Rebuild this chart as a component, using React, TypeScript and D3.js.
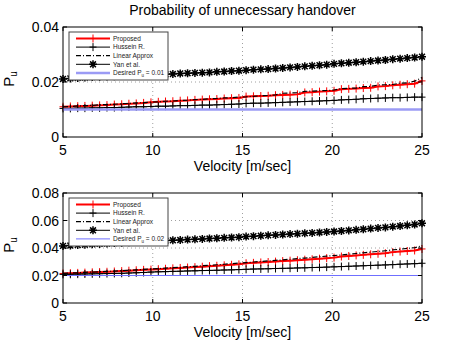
import React, { useEffect, useRef } from 'react';
import * as d3 from 'd3';

// velocity samples [m/sec]
const velocity = [
  5, 5.41, 5.82, 6.22, 6.63, 7.04, 7.45, 7.86, 8.27, 8.67,
  9.08, 9.49, 9.9, 10.31, 10.71, 11.12, 11.53, 11.94, 12.35, 12.76,
  13.16, 13.57, 13.98, 14.39, 14.8, 15.2, 15.61, 16.02, 16.43, 16.84,
  17.24, 17.65, 18.06, 18.47, 18.88, 19.29, 19.69, 20.1, 20.51, 20.92,
  21.33, 21.73, 22.14, 22.55, 22.96, 23.37, 23.78, 24.18, 24.59, 25,
];

// top panel (desired Pu = 0.01)
const topProposed = [
  0.0110, 0.0111, 0.0112, 0.0113, 0.0114, 0.0115, 0.0116, 0.0118, 0.0119, 0.0121,
  0.0122, 0.0124, 0.0126, 0.0128, 0.0129, 0.0130, 0.0132, 0.0133, 0.0135, 0.0136,
  0.0137, 0.0138, 0.0140, 0.0141, 0.0142, 0.0147, 0.0148, 0.0149, 0.0150, 0.0152,
  0.0153, 0.0154, 0.0155, 0.0162, 0.0163, 0.0165, 0.0166, 0.0168, 0.0174, 0.0175,
  0.0176, 0.0178, 0.0179, 0.0184, 0.0185, 0.0188, 0.0190, 0.0192, 0.0194, 0.0204,
];
const topHussein = [
  0.0104, 0.0104, 0.0105, 0.0105, 0.0106, 0.0106, 0.0107, 0.0107, 0.0108, 0.0109,
  0.0110, 0.0110, 0.0111, 0.0112, 0.0112, 0.0113, 0.0114, 0.0114, 0.0115, 0.0116,
  0.0116, 0.0117, 0.0118, 0.0119, 0.0120, 0.0122, 0.0123, 0.0123, 0.0124, 0.0125,
  0.0126, 0.0127, 0.0128, 0.0129, 0.0130, 0.0131, 0.0132, 0.0133, 0.0135, 0.0136,
  0.0137, 0.0139, 0.0140, 0.0141, 0.0142, 0.0143, 0.0143, 0.0144, 0.0145, 0.0145,
];
const topLinear = [
  0.0110, 0.0111, 0.0113, 0.0114, 0.0115, 0.0117, 0.0118, 0.0119, 0.0121, 0.0122,
  0.0124, 0.0125, 0.0127, 0.0128, 0.0130, 0.0131, 0.0133, 0.0134, 0.0136, 0.0137,
  0.0139, 0.0140, 0.0142, 0.0143, 0.0145, 0.0146, 0.0148, 0.0150, 0.0151, 0.0153,
  0.0159, 0.0160, 0.0161, 0.0166, 0.0167, 0.0168, 0.0169, 0.0171, 0.0176, 0.0177,
  0.0178, 0.0183, 0.0184, 0.0189, 0.0190, 0.0191, 0.0196, 0.0197, 0.0203, 0.0216,
];
const topYan = [
  0.0211, 0.0213, 0.0215, 0.0216, 0.0218, 0.0219, 0.0220, 0.0221, 0.0222, 0.0223,
  0.0224, 0.0225, 0.0226, 0.0227, 0.0228, 0.0229, 0.0231, 0.0232, 0.0233, 0.0234,
  0.0235, 0.0237, 0.0238, 0.0240, 0.0241, 0.0243, 0.0245, 0.0246, 0.0247, 0.0249,
  0.0251, 0.0253, 0.0255, 0.0257, 0.0259, 0.0261, 0.0263, 0.0266, 0.0268, 0.0270,
  0.0272, 0.0274, 0.0276, 0.0278, 0.0280, 0.0283, 0.0285, 0.0287, 0.0289, 0.0292,
];

// bottom panel (desired Pu = 0.02)
const botProposed = [
  0.0215, 0.0217, 0.0219, 0.0221, 0.0223, 0.0225, 0.0227, 0.0229, 0.0232, 0.0235,
  0.0238, 0.0241, 0.0243, 0.0246, 0.0249, 0.0252, 0.0255, 0.0258, 0.0261, 0.0264,
  0.0268, 0.0271, 0.0274, 0.0278, 0.0281, 0.0289, 0.0292, 0.0295, 0.0298, 0.0301,
  0.0305, 0.0308, 0.0311, 0.0315, 0.0318, 0.0322, 0.0326, 0.0330, 0.0338, 0.0342,
  0.0346, 0.0350, 0.0354, 0.0358, 0.0362, 0.0370, 0.0374, 0.0378, 0.0382, 0.0393,
];
const botHussein = [
  0.0208, 0.0209, 0.0210, 0.0211, 0.0212, 0.0213, 0.0214, 0.0215, 0.0216, 0.0218,
  0.0220, 0.0222, 0.0225, 0.0227, 0.0228, 0.0230, 0.0231, 0.0233, 0.0234, 0.0236,
  0.0237, 0.0238, 0.0240, 0.0241, 0.0243, 0.0245, 0.0247, 0.0248, 0.0249, 0.0251,
  0.0252, 0.0253, 0.0255, 0.0256, 0.0258, 0.0259, 0.0261, 0.0263, 0.0265, 0.0267,
  0.0269, 0.0271, 0.0273, 0.0275, 0.0277, 0.0279, 0.0282, 0.0284, 0.0286, 0.0289,
];
const botLinear = [
  0.0216, 0.0218, 0.0220, 0.0223, 0.0225, 0.0227, 0.0230, 0.0232, 0.0235, 0.0238,
  0.0241, 0.0244, 0.0247, 0.0250, 0.0254, 0.0257, 0.0260, 0.0264, 0.0267, 0.0271,
  0.0274, 0.0278, 0.0282, 0.0286, 0.0290, 0.0294, 0.0298, 0.0302, 0.0306, 0.0310,
  0.0314, 0.0318, 0.0323, 0.0327, 0.0332, 0.0336, 0.0341, 0.0345, 0.0350, 0.0355,
  0.0360, 0.0365, 0.0370, 0.0375, 0.0380, 0.0386, 0.0391, 0.0397, 0.0402, 0.0417,
];
const botYan = [
  0.0415, 0.0418, 0.0421, 0.0424, 0.0427, 0.0430, 0.0433, 0.0436, 0.0439, 0.0442,
  0.0445, 0.0448, 0.0450, 0.0452, 0.0454, 0.0456, 0.0458, 0.0461, 0.0463, 0.0466,
  0.0469, 0.0471, 0.0474, 0.0476, 0.0479, 0.0483, 0.0486, 0.0489, 0.0492, 0.0495,
  0.0498, 0.0501, 0.0504, 0.0507, 0.0510, 0.0513, 0.0517, 0.0520, 0.0524, 0.0528,
  0.0532, 0.0536, 0.0541, 0.0546, 0.0550, 0.0555, 0.0560, 0.0565, 0.0571, 0.0580,
];

const xTicks = [5, 10, 15, 20, 25];
const topYTicks = [0, 0.02, 0.04];
const botYTicks = [0, 0.02, 0.04, 0.06, 0.08];
const legendNames = ['Proposed', 'Hussein R.', 'Linear Approx', 'Yan et al.'];

const FONT = 'Liberation Sans, Arial, Helvetica, sans-serif';
const PLUS = 'M-3.5,0H3.5M0,-4V4';
const STAR = 'M-4,0H4M0,-4V4M-2.9,-2.9L2.9,2.9M-2.9,2.9L2.9,-2.9';

type PanelCfg = {
  top: number;
  bottom: number;
  yMax: number;
  yTicks: number[];
  proposed: number[];
  hussein: number[];
  linear: number[];
  yan: number[];
  desired: number;
  desiredLabel: string;
  desiredColor: string;
  desiredWidth: number;
};

function drawPanel(svg: any, cfg: PanelCfg, id: string) {
  const left = 63, right = 422;
  const x = d3.scaleLinear().domain([5, 25]).range([left, right]);
  const y = d3.scaleLinear().domain([0, cfg.yMax]).range([cfg.bottom, cfg.top]);
  const g = svg.append('g');

  g.append('rect').attr('x', left).attr('y', cfg.top)
    .attr('width', right - left).attr('height', cfg.bottom - cfg.top).attr('fill', 'white');

  // dotted grid
  xTicks.slice(1, -1).forEach(t => {
    g.append('line').attr('x1', x(t)).attr('x2', x(t)).attr('y1', cfg.top).attr('y2', cfg.bottom)
      .attr('stroke', '#888').attr('stroke-width', 0.8).attr('stroke-dasharray', '1,3');
  });
  cfg.yTicks.slice(1, -1).forEach(t => {
    g.append('line').attr('x1', left).attr('x2', right).attr('y1', y(t)).attr('y2', y(t))
      .attr('stroke', '#888').attr('stroke-width', 0.8).attr('stroke-dasharray', '1,3');
  });

  const clip = g.append('clipPath').attr('id', 'clip' + id);
  clip.append('rect').attr('x', left - 6).attr('y', cfg.top - 6)
    .attr('width', right - left + 12).attr('height', cfg.bottom - cfg.top + 12);
  const plot = g.append('g').attr('clip-path', `url(#clip${id})`);

  const line = d3.line<number>().x((_, i) => x(velocity[i])).y(d => y(d));

  const series = [
    { data: cfg.proposed, color: '#ff0000', width: 2, dash: null, marker: PLUS },
    { data: cfg.hussein, color: '#000', width: 1, dash: null, marker: PLUS },
    { data: cfg.linear, color: '#000', width: 1.2, dash: '5,2,1,2', marker: null },
    { data: cfg.yan, color: '#000', width: 1, dash: null, marker: STAR },
  ];
  series.forEach(s => {
    plot.append('path').attr('d', line(s.data)).attr('fill', 'none')
      .attr('stroke', s.color).attr('stroke-width', s.width)
      .attr('stroke-dasharray', s.dash);
    if (s.marker) {
      plot.selectAll(null).data(s.data).join('path')
        .attr('d', s.marker)
        .attr('transform', (d: number, i: number) => `translate(${x(velocity[i])},${y(d)})`)
        .attr('fill', 'none').attr('stroke', s.color)
        .attr('stroke-width', s.marker === STAR ? 1.5 : 1);
    }
  });
  plot.append('line').attr('x1', x(5)).attr('x2', x(25))
    .attr('y1', y(cfg.desired)).attr('y2', y(cfg.desired))
    .attr('stroke', cfg.desiredColor).attr('stroke-width', cfg.desiredWidth);

  // axes box and inward ticks
  g.append('rect').attr('x', left).attr('y', cfg.top)
    .attr('width', right - left).attr('height', cfg.bottom - cfg.top)
    .attr('fill', 'none').attr('stroke', '#000').attr('stroke-width', 1);
  xTicks.forEach(t => {
    g.append('line').attr('x1', x(t)).attr('x2', x(t)).attr('y1', cfg.bottom).attr('y2', cfg.bottom - 4).attr('stroke', '#000');
    g.append('line').attr('x1', x(t)).attr('x2', x(t)).attr('y1', cfg.top).attr('y2', cfg.top + 4).attr('stroke', '#000');
    g.append('text').attr('x', x(t)).attr('y', cfg.bottom + 18).attr('text-anchor', 'middle')
      .attr('font-family', FONT).attr('font-size', 14).text(String(t));
  });
  cfg.yTicks.forEach(t => {
    g.append('line').attr('x1', left).attr('x2', left + 4).attr('y1', y(t)).attr('y2', y(t)).attr('stroke', '#000');
    g.append('line').attr('x1', right).attr('x2', right - 4).attr('y1', y(t)).attr('y2', y(t)).attr('stroke', '#000');
    g.append('text').attr('x', left - 4).attr('y', y(t)).attr('dy', '0.36em').attr('text-anchor', 'end')
      .attr('font-family', FONT).attr('font-size', 14).text(t === 0 ? '0' : d3.format('.2f')(t));
  });

  // axis labels
  g.append('text').attr('x', (left + right) / 2).attr('y', cfg.bottom + 34).attr('text-anchor', 'middle')
    .attr('font-family', FONT).attr('font-size', 14).text('Velocity [m/sec]');
  const yl = g.append('text')
    .attr('transform', `translate(14,${(cfg.top + cfg.bottom) / 2 - 3}) rotate(-90)`)
    .attr('text-anchor', 'middle').attr('font-family', FONT).attr('font-size', 15);
  yl.append('tspan').text('P');
  yl.append('tspan').attr('font-size', 10).attr('dy', 3).text('u');

  // legend
  const lx = 69, ly = cfg.top + 5, lw = 99, lh = 48;
  const leg = g.append('g');
  leg.append('rect').attr('x', lx).attr('y', ly).attr('width', lw).attr('height', lh)
    .attr('fill', 'white').attr('stroke', '#444').attr('stroke-width', 1);
  const rows = [...series.map((s, i) => ({ ...s, name: legendNames[i] })),
    { data: [], color: cfg.desiredColor, width: cfg.desiredWidth, dash: null, marker: null, name: 'desired' }];
  rows.forEach((r, i) => {
    const ry = ly + 6.5 + i * 8.6;
    leg.append('line').attr('x1', lx + 7).attr('x2', lx + 41).attr('y1', ry).attr('y2', ry)
      .attr('stroke', r.color).attr('stroke-width', r.width).attr('stroke-dasharray', r.dash);
    if (r.marker) {
      leg.append('path').attr('d', r.marker).attr('transform', `translate(${lx + 24},${ry})`)
        .attr('fill', 'none').attr('stroke', r.color).attr('stroke-width', r.marker === STAR ? 1.5 : 1);
    }
    const t = leg.append('text').attr('x', lx + 44).attr('y', ry + 2.3)
      .attr('font-family', FONT).attr('font-size', 6.5).attr('fill', '#222');
    if (r.name === 'desired') {
      t.append('tspan').text('Desired P');
      t.append('tspan').attr('font-size', 4.5).attr('dy', 2).text('u');
      t.append('tspan').attr('dy', -2).text(' = ' + cfg.desiredLabel);
    } else {
      t.text(r.name);
    }
  });
}

export default function App() {
  const ref = useRef<SVGSVGElement>(null);

  useEffect(() => {
    const svg = d3.select(ref.current);
    svg.selectAll('*').remove();
    svg.append('rect').attr('width', 466).attr('height', 350).attr('fill', 'white');
    svg.append('text').attr('x', 242.5).attr('y', 15).attr('text-anchor', 'middle')
      .attr('font-family', FONT).attr('font-size', 14).text('Probability of unnecessary handover');

    drawPanel(svg, {
      top: 27, bottom: 137, yMax: 0.04, yTicks: topYTicks,
      proposed: topProposed, hussein: topHussein, linear: topLinear, yan: topYan,
      desired: 0.01, desiredLabel: '0.01', desiredColor: '#9b9bf5', desiredWidth: 2.5,
    }, 'a');
    drawPanel(svg, {
      top: 193, bottom: 303, yMax: 0.08, yTicks: botYTicks,
      proposed: botProposed, hussein: botHussein, linear: botLinear, yan: botYan,
      desired: 0.02, desiredLabel: '0.02', desiredColor: '#6f6fff', desiredWidth: 1,
    }, 'b');
  }, []);

  return (
    <div style={{ position: 'absolute', left: 0, top: 0 }}>
      <svg ref={ref} width={466} height={350} style={{ display: 'block' }} />
    </div>
  );
}
